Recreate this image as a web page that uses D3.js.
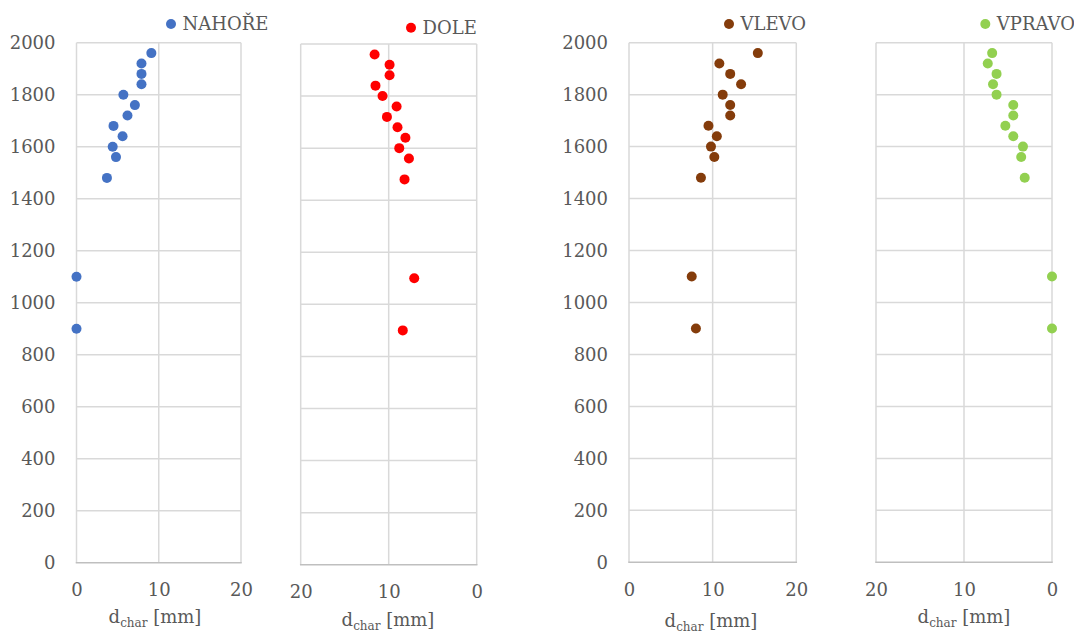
<!DOCTYPE html>
<html><head><meta charset="utf-8">
<script src="https://cdn.jsdelivr.net/npm/d3@7"></script>
<style>
body{margin:0;background:#fff;}
svg text{font-family:"DejaVu Serif","Liberation Serif",serif;fill:#595959;}
</style></head>
<body><svg id="c" width="1074" height="634"></svg>
<script>
// ---- data ----
const seriesNames = ["NAHOŘE", "DOLE", "VLEVO", "VPRAVO"];
const heights = [1960, 1920, 1880, 1840, 1800, 1760, 1720, 1680, 1640, 1600, 1560, 1480, 1100, 900];
const nahore = [9.1, 7.9, 7.9, 7.9, 5.7, 7.1, 6.2, 4.5, 5.6, 4.4, 4.8, 3.7, 0, 0];
const dole   = [11.6, 9.9, 9.9, 11.5, 10.7, 9.1, 10.2, 9.0, 8.1, 8.8, 7.7, 8.2, 7.1, 8.4];
const vlevo  = [15.4, 10.8, 12.1, 13.4, 11.2, 12.1, 12.1, 9.5, 10.5, 9.8, 10.2, 8.6, 7.5, 8.0];
const vpravo = [6.8, 7.3, 6.3, 6.7, 6.3, 4.4, 4.4, 5.3, 4.4, 3.3, 3.5, 3.1, 0, 0];
const yTicks = [0, 200, 400, 600, 800, 1000, 1200, 1400, 1600, 1800, 2000];
const xTicks = [0, 10, 20];
const seriesColors = ["#4472C4", "#FF0000", "#843C0B", "#92D050"];

// ---- layout ----
const panels = [
  {values: nahore, left: 76.5, right: 241, top: 42.7, bottom: 562.7, reversed: false, yLabels: true,
   legend: [171, 24], titleX: 155, titleY: 623},
  {values: dole, left: 300.7, right: 476.7, top: 44, bottom: 564.7, reversed: true, yLabels: false,
   legend: [411, 27.7], titleX: 388, titleY: 626},
  {values: vlevo, left: 629, right: 796.3, top: 42.7, bottom: 562.3, reversed: false, yLabels: true,
   legend: [729, 24], titleX: 711, titleY: 627},
  {values: vpravo, left: 876, right: 1052, top: 42.7, bottom: 562.3, reversed: true, yLabels: false,
   legend: [985.3, 24], titleX: 964, titleY: 623}
];

const svg = d3.select("#c");
const FS = 18;

panels.forEach((p, i) => {
  const x = d3.scaleLinear().domain(p.reversed ? [20, 0] : [0, 20]).range([p.left, p.right]);
  const y = d3.scaleLinear().domain([0, 2000]).range([p.bottom, p.top]);
  const g = svg.append("g");

  // horizontal gridlines
  g.selectAll(".hg").data(yTicks.filter(d => d > 0)).join("line")
    .attr("x1", p.left).attr("x2", p.right)
    .attr("y1", d => y(d)).attr("y2", d => y(d))
    .attr("stroke", "#d9d9d9").attr("stroke-width", 1.5);
  // vertical gridlines
  g.selectAll(".vg").data(xTicks).join("line")
    .attr("x1", d => x(d)).attr("x2", d => x(d))
    .attr("y1", p.top).attr("y2", p.bottom)
    .attr("stroke", "#d9d9d9").attr("stroke-width", 1.5);
  // bottom axis line
  g.append("line").attr("x1", p.left - 0.75).attr("x2", p.right + 0.75)
    .attr("y1", y(0)).attr("y2", y(0))
    .attr("stroke", "#bfbfbf").attr("stroke-width", 1.5);

  // x axis labels
  const xa = g.append("g").attr("transform", `translate(0,${p.bottom})`)
    .call(d3.axisBottom(x).tickValues(xTicks).tickSize(0).tickPadding(21).tickFormat(d3.format("d")));
  xa.select(".domain").remove();
  xa.selectAll("text").attr("font-size", FS).style("font-family", '"DejaVu Serif",serif').attr("fill", "#595959");

  // y axis labels
  if (p.yLabels) {
    const ya = g.append("g").attr("transform", `translate(${p.left},0)`)
      .call(d3.axisLeft(y).tickValues(yTicks).tickSize(0).tickPadding(21).tickFormat(d3.format("d")));
    ya.select(".domain").remove();
    ya.selectAll("text").attr("font-size", FS).style("font-family", '"DejaVu Serif",serif').attr("fill", "#595959");
  }

  // points
  g.selectAll(".pt").data(p.values.map((v, k) => ({v, h: heights[k]}))).join("circle")
    .attr("cx", d => x(d.v)).attr("cy", d => y(d.h)).attr("r", 5)
    .attr("fill", seriesColors[i]);

  // legend
  g.append("circle").attr("cx", p.legend[0]).attr("cy", p.legend[1]).attr("r", 5).attr("fill", seriesColors[i]);
  g.append("text").attr("x", p.legend[0] + 11.5).attr("y", p.legend[1]).attr("dy", "0.35em")
    .attr("font-size", FS).text(seriesNames[i]);

  // axis title
  const t = g.append("text").attr("x", p.titleX).attr("y", p.titleY).attr("text-anchor", "middle").attr("font-size", FS);
  t.append("tspan").text("d");
  t.append("tspan").attr("font-size", 12).attr("dy", 4).text("char");
  t.append("tspan").attr("dy", -4).text(" [mm]");
});
</script>
</body></html>
